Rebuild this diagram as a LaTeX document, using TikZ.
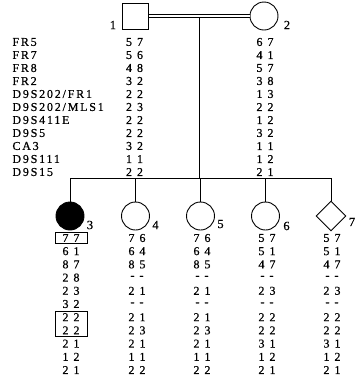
\documentclass[tikz,border=0pt]{standalone}
\usepackage{fontspec}
\setmainfont[FakeBold=0.6]{Liberation Serif}
\newfontfamily\locusfont[LetterSpace=15,FakeBold=0.6]{Liberation Serif}
\usetikzlibrary{calc,fit,shapes}

\begin{document}
\begin{tikzpicture}[x=1pt,y=-1pt,line width=0.9pt]
    \tikzstyle{male}=[rectangle, minimum size=26pt, draw, inner sep=0pt]
    \tikzstyle{female}=[circle, minimum size=28pt, draw, inner sep=0pt]
    \tikzstyle{unknown}=[diamond, minimum size=30pt, draw, inner sep=0pt]
    \tikzstyle{affected}=[fill=black]
    \tikzstyle{lbl}=[inner sep=0pt, font=\fontsize{12.5}{12.5}\selectfont]
    \tikzstyle{locus}=[anchor=west, inner sep=0pt, font=\fontsize{12}{12}\selectfont\locusfont]
    \tikzstyle{allele}=[inner sep=1pt, font=\fontsize{12}{12}\selectfont]
    \tikzstyle{hapbox}=[draw, line width=0.5pt, inner xsep=6pt, inner ysep=0.3pt]

    \useasboundingbox (0,0) rectangle (362,384);

    % parents
    \node[male]   (fa) at (135.5,16) {};
    \node[female] (mo) at (264,16) {};
    \node[lbl] (fa-lbl) at (113,25) {1};
    \node[lbl] (mo-lbl) at (287,25) {2};

    % sibship
    \node[female,affected] (c3) at (70,216) {};
    \node[female]  (c4) at (135.5,216) {};
    \node[female]  (c5) at (200.5,216) {};
    \node[female]  (c6) at (265.5,216) {};
    \node[unknown] (c7) at (331,216) {};
    \foreach \k/\dx/\dy in {3/20/9,4/20/9,5/20/8,6/21/10,7/21/6}
        \node[lbl] (c\k-lbl) at ($(c\k)+(\dx,\dy)$) {\k};

    \coordinate (mid) at ($(fa.east)!0.5!(mo.west)$);
    \coordinate (sib) at (200,178);
    \draw (mid) -- (mid |- sib);
    \draw (c3 |- sib) -- (c7 |- sib);
    \foreach \k in {3,...,7}
        \draw (c\k |- sib) -- (c\k);
    \draw[double, double distance=2pt, line width=0.7pt] (fa) -- (mo);

    % marker names and parental haplotypes
    \foreach \name [count=\i] in {FR5,FR7,FR8,FR2,{D9S202/FR1},{D9S202/MLS1},D9S411E,D9S5,CA3,D9S111,D9S15}
        \node[locus] (locus\i) at (12,{42+13*(\i-1)}) {\name};
    \foreach \a/\b [count=\i] in {5/7,5/6,4/8,3/2,2/2,2/3,2/2,2/2,3/2,1/1,2/2}
        \node[allele] (fa\i) at (134.5,{42+13*(\i-1)}) {\a\hspace{5pt}\b};
    \foreach \a/\b [count=\i] in {6/7,4/1,5/7,3/8,1/3,2/2,1/2,3/2,1/1,1/2,2/1}
        \node[allele] (mo\i) at (265,{42+13*(\i-1)}) {\a\hspace{5pt}\b};

    % offspring haplotypes
    \foreach \k/\cx/\haps in {3/71/{7/7,6/1,8/7,2/8,2/3,3/2,2/2,2/2,2/1,1/2,2/1},
                             4/137/{7/6,6/4,8/5,-/-,2/1,-/-,2/1,2/3,2/1,1/1,2/2},
                             5/202/{7/6,6/4,8/5,-/-,2/1,-/-,2/1,2/3,2/1,1/1,2/2},
                             6/267/{5/7,5/1,4/7,-/-,2/3,-/-,2/2,2/2,3/1,1/2,2/1},
                             7/332/{5/7,5/1,4/7,-/-,2/3,-/-,2/2,2/2,3/1,1/2,2/1}}
        \foreach \a/\b [count=\i] in \haps
            \node[allele] (c\k-\i) at (\cx,{238+13.2*(\i-1)}) {\a\hspace{5pt}\b};

    \node[hapbox, fit=(c3-1)] (box1) {};
    \node[hapbox, fit=(c3-7)(c3-8)] (box2) {};
\end{tikzpicture}
\end{document}
